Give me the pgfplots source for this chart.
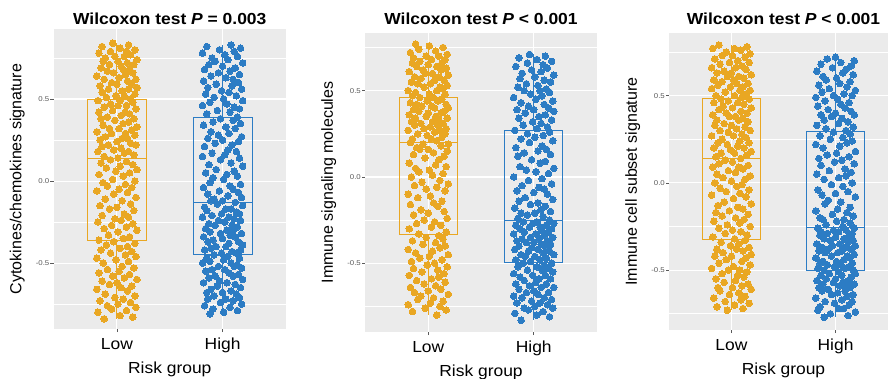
\documentclass[border=0pt]{standalone}
\usepackage{fontspec}
\setmainfont{Liberation Sans}
\usepackage{pgfplots}
\pgfplotsset{compat=1.18}
\definecolor{lowc}{HTML}{E9A723}
\definecolor{highc}{HTML}{2C7CC4}
\definecolor{panelbg}{HTML}{EBEBEB}
\definecolor{tickgray}{HTML}{5A5A5A}
\newcommand{\hs}[1]{\scalebox{1.09}[1]{#1}}
\newcommand{\ys}[1]{\scalebox{1.12}[1]{#1}}
\pgfplotsset{
 panel/.style={
  scale only axis, anchor=south west,
  xmin=0.4, xmax=2.6,
  xtick={1,2}, xticklabels={\hs{Low},\hs{High}},
  ytick={-0.5,0,0.5}, yticklabels={\ys{-0.5},\ys{0.0},\ys{0.5}},
  minor ytick={-0.75,-0.25,0.25,0.75},
  xmajorgrids, ymajorgrids, yminorgrids,
  major grid style={white, line width=1.1pt},
  minor grid style={white, line width=0.55pt},
  axis background/.style={fill=panelbg},
  axis line style={draw=none},
  tick align=outside, tick pos=left,
  major tick length=3pt, minor tick length=0pt,
  tick style={tickgray, line width=0.6pt},
  yticklabel style={font=\fontsize{7}{8}\selectfont, text=tickgray, inner sep=1pt},
  xticklabel style={font=\fontsize{16}{18}\selectfont, inner sep=0pt, anchor=north, yshift=-6pt},
  xlabel={\hs{Risk group}},
  xlabel style={font=\fontsize{16}{18}\selectfont, at={(axis description cs:0.5,0)}, anchor=base, yshift=-44pt},
  ylabel style={font=\fontsize{16}{18}\selectfont, anchor=base},
  title style={font=\fontsize{16}{18}\selectfont\bfseries, anchor=base, at={(0.5,1)}},
 },
 lowpts/.style={only marks, mark=*, mark size=3.3pt, color=lowc, mark options={solid, fill=lowc, draw=lowc, line width=0pt}},
 highpts/.style={only marks, mark=*, mark size=3.3pt, color=highc, mark options={solid, fill=highc, draw=highc, line width=0pt}},
 lowbox/.style={draw=lowc, line width=0.9pt, mark=none, sharp plot, line join=miter},
 highbox/.style={draw=highc, line width=0.9pt, mark=none, sharp plot, line join=miter},
}
\begin{document}
\begin{tikzpicture}
\useasboundingbox (0,0) rectangle (888pt,378pt);
\clip (0,0) rectangle (888pt,378pt);
% ---------------- Panel 1 ----------------
\begin{axis}[panel, at={(53.5pt,49pt)}, width=232.5pt, height=300pt,
  ymin=-0.902, ymax=0.927,
  title={\hs{Wilcoxon test \textit{P} = 0.003}}, title style={yshift=-1pt},
  ylabel={Cytokines/chemokines signature},
  ylabel style={at={(axis description cs:-0.138,0.5)}}]
\addplot[lowpts] coordinates {
(0.88,-0.84) (1.15,-0.83) (1.03,-0.82) (0.82,-0.80) (1.09,-0.79) (0.95,-0.78) (1.18,-0.77) (0.91,-0.76)
(1.01,-0.75) (1.13,-0.74) (0.84,-0.73) (1.06,-0.72) (0.98,-0.71) (1.17,-0.70) (0.89,-0.69) (1.10,-0.67) (0.81,-0.66)
(1.04,-0.65) (1.14,-0.64) (0.93,-0.63) (1.00,-0.62) (0.86,-0.61) (1.19,-0.60) (1.07,-0.59) (0.96,-0.58) (1.12,-0.57) (0.83,-0.56)
(1.02,-0.55) (0.91,-0.54) (1.16,-0.53) (1.05,-0.52) (0.87,-0.50) (1.11,-0.49) (0.99,-0.48) (0.81,-0.47) (1.18,-0.46)
(1.08,-0.45) (0.94,-0.44) (1.14,-0.43) (0.85,-0.42) (1.03,-0.41) (1.10,-0.40) (0.90,-0.39) (1.17,-0.38) (0.97,-0.37) (0.83,-0.36)
(1.06,-0.35) (1.12,-0.34) (0.92,-0.33) (1.01,-0.31) (1.19,-0.30) (0.88,-0.29) (1.09,-0.28) (0.95,-0.27) (1.15,-0.26)
(0.82,-0.25) (1.04,-0.24) (0.98,-0.23) (1.11,-0.22) (0.86,-0.21) (1.07,-0.20) (1.16,-0.18) (0.93,-0.17) (1.00,-0.16)
(0.84,-0.15) (1.13,-0.14) (1.05,-0.12) (0.89,-0.11) (1.18,-0.10) (0.97,-0.08) (1.10,-0.07) (0.81,-0.06)
(1.02,-0.05) (1.14,-0.04) (0.91,-0.03) (1.08,-0.02) (0.87,-0.01) (1.17,0.00) (0.96,0.01) (1.06,0.03) (0.83,0.04)
(1.12,0.05) (0.99,0.06) (1.19,0.07) (0.90,0.08) (1.03,0.09) (1.15,0.10) (0.85,0.11) (1.09,0.12) (0.94,0.13) (1.01,0.14)
(0.88,0.15) (1.16,0.16) (1.07,0.17) (0.82,0.18) (1.11,0.18) (0.97,0.19) (1.04,0.20) (0.86,0.21) (1.18,0.22) (0.92,0.22) (1.13,0.23) (1.00,0.24)
(0.84,0.25) (1.10,0.26) (1.05,0.26) (0.89,0.27) (1.17,0.28) (0.95,0.29) (1.08,0.29) (0.81,0.30) (1.14,0.31) (1.02,0.32) (0.93,0.32) (1.19,0.33) (0.87,0.34)
(1.06,0.35) (1.11,0.36) (0.98,0.37) (0.85,0.38) (1.16,0.38) (0.91,0.39) (1.04,0.40) (1.12,0.41) (0.83,0.42) (1.08,0.42) (0.96,0.43) (1.18,0.44)
(0.88,0.45) (1.01,0.46) (1.09,0.46) (0.94,0.47) (1.15,0.48) (0.82,0.49) (1.03,0.49) (1.13,0.50) (0.90,0.51) (1.07,0.52) (0.99,0.52) (1.17,0.53) (0.86,0.54)
(1.05,0.55) (1.11,0.56) (0.92,0.56) (1.19,0.57) (0.84,0.58) (1.00,0.59) (1.14,0.59) (0.95,0.60) (1.10,0.61) (0.88,0.62) (1.18,0.62) (1.02,0.63) (0.81,0.64)
(1.08,0.65) (0.97,0.66) (1.15,0.66) (0.91,0.67) (1.06,0.68) (1.12,0.68) (0.85,0.69) (1.04,0.70) (0.93,0.71) (1.16,0.71) (1.10,0.72) (0.87,0.73) (1.01,0.73) (1.19,0.74)
(0.89,0.75) (1.07,0.76) (0.98,0.76) (1.13,0.77) (0.83,0.78) (1.09,0.79) (0.94,0.79) (1.17,0.80) (1.03,0.81) (0.86,0.82) (1.11,0.83) (0.96,0.84)
};
\addplot[highpts] coordinates {
(2.08,0.83) (1.85,0.82) (2.17,0.81) (1.97,0.80) (2.11,0.79) (1.81,0.78) (2.02,0.77) (2.14,0.76) (1.90,0.75)
(2.05,0.74) (1.93,0.73) (2.19,0.72) (1.87,0.71) (2.00,0.70) (2.12,0.69) (1.83,0.68) (2.07,0.67) (1.96,0.66) (2.16,0.65)
(1.89,0.64) (2.03,0.63) (2.10,0.62) (1.82,0.61) (2.15,0.60) (1.94,0.59) (2.09,0.58) (1.86,0.57) (2.18,0.56) (1.99,0.55)
(2.06,0.54) (1.84,0.53) (2.13,0.52) (1.92,0.51) (2.01,0.50) (2.19,0.49) (1.88,0.48) (2.04,0.47) (1.81,0.46) (2.11,0.45)
(2.16,0.44) (1.95,0.43) (2.07,0.42) (1.85,0.41) (2.14,0.39) (1.98,0.38) (2.10,0.37) (1.91,0.36) (2.17,0.35)
(1.82,0.34) (2.03,0.33) (2.12,0.32) (1.89,0.30) (2.06,0.29) (1.96,0.28) (2.18,0.27) (1.86,0.26) (2.00,0.25)
(2.15,0.24) (1.93,0.23) (2.09,0.22) (1.83,0.21) (2.05,0.19) (2.13,0.18) (1.90,0.17) (2.02,0.16) (1.81,0.15)
(2.16,0.14) (1.98,0.13) (2.08,0.11) (1.87,0.10) (2.19,0.09) (1.94,0.07) (2.11,0.06) (1.84,0.05)
(2.04,0.04) (2.14,0.03) (1.91,0.02) (2.01,0.01) (1.88,-0.01) (2.17,-0.02) (2.07,-0.03) (1.82,-0.04) (2.10,-0.05)
(1.97,-0.06) (2.15,-0.07) (1.86,-0.08) (2.05,-0.09) (2.18,-0.10) (1.92,-0.11) (2.00,-0.12) (1.89,-0.12) (2.12,-0.13) (1.95,-0.14) (2.19,-0.15)
(1.83,-0.16) (2.08,-0.17) (2.03,-0.17) (1.85,-0.18) (2.13,-0.19) (1.99,-0.20) (2.16,-0.20) (1.90,-0.21) (2.06,-0.22) (1.81,-0.22) (2.11,-0.23) (1.96,-0.24) (2.17,-0.24) (2.02,-0.25)
(1.87,-0.26) (2.09,-0.27) (1.93,-0.27) (2.14,-0.28) (1.84,-0.29) (2.04,-0.30) (2.10,-0.30) (1.88,-0.31) (2.18,-0.32) (1.98,-0.32) (2.07,-0.33) (1.82,-0.34) (2.12,-0.34) (2.00,-0.35)
(1.91,-0.36) (2.15,-0.37) (1.86,-0.37) (2.06,-0.38) (2.19,-0.39) (1.94,-0.40) (2.03,-0.40) (1.89,-0.41) (2.17,-0.42) (1.83,-0.42) (2.09,-0.43) (1.99,-0.44) (2.13,-0.44) (1.92,-0.45)
(2.05,-0.46) (1.85,-0.47) (2.16,-0.47) (2.01,-0.48) (1.88,-0.49) (2.08,-0.50) (1.81,-0.50) (2.14,-0.51) (1.96,-0.52) (2.11,-0.52) (2.18,-0.53) (1.90,-0.54) (2.02,-0.54) (1.84,-0.55)
(2.06,-0.56) (2.15,-0.57) (1.93,-0.58) (2.10,-0.58) (1.87,-0.59) (2.19,-0.60) (1.97,-0.61) (2.04,-0.62) (1.82,-0.62) (2.12,-0.63) (1.95,-0.64) (2.17,-0.65)
(1.89,-0.66) (2.08,-0.67) (2.00,-0.68) (1.85,-0.68) (2.13,-0.69) (1.92,-0.70) (2.16,-0.71) (2.03,-0.72) (1.86,-0.72) (2.10,-0.73) (1.98,-0.74) (2.18,-0.75)
(1.83,-0.76) (2.07,-0.77) (1.91,-0.78) (2.14,-0.79) (2.01,-0.80) (1.88,-0.81)
};
% boxes (Q1, median, Q3, whiskers)
\addplot[lowbox] coordinates {(0.722,-0.365) (1.278,-0.365) (1.278,0.50) (0.722,0.50) (0.722,-0.365)};
\addplot[lowbox] coordinates {(0.722,0.14) (1.278,0.14)};
\addplot[lowbox] coordinates {(1,0.50) (1,0.84)};
\addplot[lowbox] coordinates {(1,-0.365) (1,-0.84)};
\addplot[highbox] coordinates {(1.722,-0.445) (2.278,-0.445) (2.278,0.39) (1.722,0.39) (1.722,-0.445)};
\addplot[highbox] coordinates {(1.722,-0.13) (2.278,-0.13)};
\addplot[highbox] coordinates {(2,0.39) (2,0.83)};
\addplot[highbox] coordinates {(2,-0.445) (2,-0.81)};
\end{axis}
% ---------------- Panel 2 ----------------
\begin{axis}[panel, at={(365pt,46pt)}, width=232pt, height=299pt,
  ymin=-0.898, ymax=0.834,
  title={\hs{Wilcoxon test \textit{P} < 0.001}}, title style={yshift=2pt},
  ylabel={Immune signaling molecules},
  ylabel style={at={(axis description cs:-0.138,0.5)}}]
\addplot[lowpts] coordinates {
(1.08,-0.80) (0.85,-0.78) (1.17,-0.77) (0.97,-0.76)
(1.11,-0.75) (0.81,-0.74) (1.02,-0.73) (1.14,-0.72) (0.90,-0.71) (1.05,-0.70) (0.93,-0.69) (1.19,-0.68) (0.87,-0.67) (1.00,-0.66)
(1.12,-0.65) (0.83,-0.64) (1.07,-0.63) (0.96,-0.62) (1.16,-0.61) (0.89,-0.60) (1.03,-0.59) (1.10,-0.58) (0.82,-0.57) (1.15,-0.56)
(0.94,-0.55) (1.09,-0.54) (0.86,-0.53) (1.18,-0.52) (0.99,-0.51) (1.06,-0.50) (0.84,-0.49) (1.13,-0.48) (0.92,-0.47) (1.01,-0.46)
(1.19,-0.45) (0.88,-0.44) (1.04,-0.43) (0.81,-0.42) (1.11,-0.41) (1.16,-0.40) (0.95,-0.39) (1.07,-0.38) (0.85,-0.37) (1.14,-0.36)
(0.98,-0.35) (1.10,-0.34) (0.91,-0.33) (1.17,-0.32) (0.82,-0.30) (1.03,-0.29) (1.12,-0.28) (0.89,-0.27) (1.06,-0.26)
(0.96,-0.25) (1.18,-0.24) (0.86,-0.22) (1.00,-0.21) (1.15,-0.20) (0.93,-0.19) (1.09,-0.17) (0.83,-0.16)
(1.05,-0.15) (1.13,-0.14) (0.90,-0.12) (1.02,-0.11) (0.81,-0.10) (1.16,-0.08) (0.98,-0.07) (1.08,-0.06)
(0.87,-0.05) (1.19,-0.04) (0.94,-0.03) (1.11,-0.02) (0.84,0.00) (1.04,0.01) (1.14,0.02) (0.91,0.03) (1.01,0.04)
(0.88,0.05) (1.17,0.06) (1.07,0.07) (0.82,0.08) (1.10,0.10) (0.97,0.11) (1.15,0.12) (0.86,0.13) (1.05,0.14)
(1.18,0.15) (0.92,0.16) (1.00,0.16) (0.89,0.17) (1.12,0.18) (0.95,0.19) (1.19,0.19) (0.83,0.20) (1.08,0.21) (1.03,0.22) (0.85,0.22) (1.13,0.23) (0.99,0.24)
(1.16,0.25) (0.90,0.25) (1.06,0.26) (0.81,0.27) (1.11,0.27) (0.96,0.28) (1.17,0.28) (1.02,0.29) (0.87,0.30) (1.09,0.30) (0.93,0.31) (1.14,0.31) (0.84,0.32) (1.04,0.32) (1.10,0.33) (0.88,0.34) (1.18,0.34)
(0.98,0.35) (1.07,0.35) (0.82,0.36) (1.12,0.37) (1.00,0.37) (0.91,0.38) (1.15,0.38) (0.86,0.39) (1.06,0.40) (1.19,0.40) (0.94,0.41) (1.03,0.41) (0.89,0.42) (1.17,0.42) (0.83,0.43) (1.09,0.44) (0.99,0.44)
(1.13,0.45) (0.92,0.46) (1.05,0.46) (0.85,0.47) (1.16,0.48) (1.01,0.48) (0.88,0.49) (1.08,0.50) (0.81,0.50) (1.14,0.51) (0.96,0.52) (1.11,0.52) (1.18,0.53) (0.90,0.54) (1.02,0.54)
(0.84,0.55) (1.06,0.56) (1.15,0.56) (0.93,0.57) (1.10,0.58) (0.87,0.58) (1.19,0.59) (0.97,0.60) (1.04,0.60) (0.82,0.61) (1.12,0.62) (0.95,0.62) (1.17,0.63) (0.89,0.64) (1.08,0.64)
(1.00,0.65) (0.85,0.66) (1.13,0.66) (0.92,0.67) (1.16,0.68) (1.03,0.68) (0.86,0.69) (1.10,0.70) (0.98,0.70) (1.18,0.71) (0.83,0.72) (1.07,0.73) (0.91,0.74) (1.14,0.75) (1.01,0.76) (0.88,0.77)
};
\addplot[highpts] coordinates {
(1.88,-0.83) (2.15,-0.81) (2.03,-0.80) (1.82,-0.79) (2.09,-0.78) (1.95,-0.77) (2.18,-0.76) (1.91,-0.76)
(2.01,-0.75) (2.13,-0.74) (1.84,-0.73) (2.06,-0.73) (1.98,-0.72) (2.17,-0.71) (1.89,-0.70) (2.10,-0.70) (1.81,-0.69) (2.04,-0.68) (2.14,-0.67) (1.93,-0.67) (2.00,-0.66)
(1.86,-0.65) (2.19,-0.64) (2.07,-0.64) (1.96,-0.63) (2.12,-0.62) (1.83,-0.62) (2.02,-0.61) (1.91,-0.60) (2.16,-0.59) (2.05,-0.59) (1.87,-0.58) (2.11,-0.57) (1.99,-0.57) (1.81,-0.56)
(2.18,-0.55) (2.08,-0.54) (1.94,-0.54) (2.14,-0.53) (1.85,-0.52) (2.03,-0.52) (2.10,-0.51) (1.90,-0.50) (2.17,-0.50) (1.97,-0.49) (1.83,-0.48) (2.06,-0.48) (2.12,-0.47) (1.92,-0.46) (2.01,-0.46)
(2.19,-0.45) (1.88,-0.45) (2.09,-0.44) (1.95,-0.43) (2.15,-0.43) (1.82,-0.42) (2.04,-0.42) (1.98,-0.41) (2.11,-0.40) (1.86,-0.40) (2.07,-0.39) (2.16,-0.39) (1.93,-0.38) (2.00,-0.38) (1.84,-0.37) (2.13,-0.37) (2.05,-0.36) (1.89,-0.36)
(2.18,-0.35) (1.97,-0.35) (2.10,-0.34) (1.81,-0.33) (2.02,-0.33) (2.14,-0.32) (1.91,-0.32) (2.08,-0.31) (1.87,-0.30) (2.17,-0.30) (1.96,-0.29) (2.06,-0.29) (1.83,-0.28) (2.12,-0.28) (1.99,-0.27) (2.19,-0.27) (1.90,-0.26) (2.03,-0.26)
(2.15,-0.25) (1.85,-0.24) (2.09,-0.23) (1.94,-0.22) (2.01,-0.21) (1.88,-0.21) (2.16,-0.20) (2.07,-0.19) (1.82,-0.18) (2.11,-0.17) (1.97,-0.16)
(2.04,-0.15) (1.86,-0.14) (2.18,-0.13) (1.92,-0.12) (2.13,-0.10) (2.00,-0.09) (1.84,-0.08) (2.10,-0.07) (2.05,-0.06)
(1.89,-0.05) (2.17,-0.04) (1.95,-0.02) (2.08,-0.01) (1.81,0.00) (2.14,0.02) (2.02,0.03) (1.93,0.04)
(2.19,0.05) (1.87,0.06) (2.06,0.08) (2.11,0.09) (1.98,0.10) (1.85,0.12) (2.16,0.13) (1.91,0.14)
(2.04,0.15) (2.12,0.16) (1.83,0.17) (2.08,0.18) (1.96,0.20) (2.18,0.21) (1.88,0.22) (2.01,0.23) (2.09,0.24)
(1.94,0.25) (2.15,0.26) (1.82,0.27) (2.03,0.28) (2.13,0.29) (1.90,0.30) (2.07,0.31) (1.99,0.32) (2.17,0.33) (1.86,0.34)
(2.05,0.35) (2.11,0.36) (1.92,0.37) (2.19,0.38) (1.84,0.39) (2.00,0.39) (2.14,0.40) (1.95,0.41) (2.10,0.42) (1.88,0.43) (2.18,0.44)
(2.02,0.45) (1.81,0.46) (2.08,0.47) (1.97,0.48) (2.15,0.49) (1.91,0.50) (2.06,0.50) (2.12,0.51) (1.85,0.52) (2.04,0.53) (1.93,0.54)
(2.16,0.55) (2.10,0.56) (1.87,0.57) (2.01,0.58) (2.19,0.59) (1.89,0.60) (2.07,0.61) (1.98,0.62) (2.13,0.63) (1.83,0.64)
(2.09,0.65) (1.94,0.66) (2.17,0.67) (2.03,0.68) (1.86,0.69) (2.11,0.70) (1.96,0.71)
};
\addplot[lowbox] coordinates {(0.724,-0.332) (1.276,-0.332) (1.276,0.462) (0.724,0.462) (0.724,-0.332)};
\addplot[lowbox] coordinates {(0.724,0.20) (1.276,0.20)};
\addplot[lowbox] coordinates {(1,0.462) (1,0.77)};
\addplot[lowbox] coordinates {(1,-0.332) (1,-0.80)};
\addplot[highbox] coordinates {(1.724,-0.497) (2.276,-0.497) (2.276,0.268) (1.724,0.268) (1.724,-0.497)};
\addplot[highbox] coordinates {(1.724,-0.253) (2.276,-0.253)};
\addplot[highbox] coordinates {(2,0.268) (2,0.71)};
\addplot[highbox] coordinates {(2,-0.497) (2,-0.83)};
\end{axis}
% ---------------- Panel 3 ----------------
\begin{axis}[panel, at={(669pt,48pt)}, width=229pt, height=297pt,
  ymin=-0.843, ymax=0.859,
  title={\hs{Wilcoxon test \textit{P} < 0.001}}, title style={yshift=2pt},
  ylabel={Immune cell subset signature},
  ylabel style={at={(axis description cs:-0.14,0.5)}}]
\addplot[lowpts] coordinates {
(0.88,0.79) (1.15,0.78) (1.03,0.77) (0.82,0.77) (1.09,0.76) (0.95,0.75) (1.18,0.74) (0.91,0.73) (1.01,0.73) (1.13,0.72)
(0.84,0.71) (1.06,0.70) (0.98,0.69) (1.17,0.69) (0.89,0.68) (1.10,0.67) (0.81,0.66) (1.04,0.66) (1.14,0.65) (0.93,0.64)
(1.00,0.63) (0.86,0.63) (1.19,0.62) (1.07,0.61) (0.96,0.61) (1.12,0.60) (0.83,0.59) (1.02,0.59) (0.91,0.58) (1.16,0.57)
(1.05,0.57) (0.87,0.56) (1.11,0.55) (0.99,0.55) (0.81,0.54) (1.18,0.53) (1.08,0.53) (0.94,0.52) (1.14,0.51) (0.85,0.50)
(1.03,0.50) (1.10,0.49) (0.90,0.48) (1.17,0.48) (0.97,0.47) (0.83,0.46) (1.06,0.46) (1.12,0.45) (0.92,0.44) (1.01,0.43)
(1.19,0.43) (0.88,0.42) (1.09,0.41) (0.95,0.40) (1.15,0.40) (0.82,0.39) (1.04,0.38) (0.98,0.38) (1.11,0.37) (0.86,0.36)
(1.07,0.36) (1.16,0.35) (0.93,0.34) (1.00,0.33) (0.84,0.33) (1.13,0.32) (1.05,0.31) (0.89,0.30) (1.18,0.30) (0.97,0.29)
(1.10,0.28) (0.81,0.27) (1.02,0.27) (1.14,0.26) (0.91,0.25) (1.08,0.24) (0.87,0.23) (1.17,0.23) (0.96,0.22) (1.06,0.21)
(0.83,0.20) (1.12,0.20) (0.99,0.19) (1.19,0.18) (0.90,0.17) (1.03,0.17) (1.15,0.16) (0.85,0.15) (1.09,0.14) (0.94,0.13)
(1.01,0.12) (0.88,0.11) (1.16,0.10) (1.07,0.09) (0.82,0.09) (1.11,0.08) (0.97,0.07) (1.04,0.06) (0.86,0.05) (1.18,0.04)
(0.92,0.03) (1.13,0.02) (1.00,0.01) (0.84,0.00) (1.10,-0.01) (1.05,-0.02) (0.89,-0.03) (1.17,-0.04) (0.95,-0.05) (1.08,-0.06)
(0.81,-0.07) (1.14,-0.08) (1.02,-0.09) (0.93,-0.11) (1.19,-0.12) (0.87,-0.13) (1.06,-0.14) (1.11,-0.15) (0.98,-0.16) (0.85,-0.17)
(1.16,-0.18) (0.91,-0.19) (1.04,-0.20) (1.12,-0.21) (0.83,-0.22) (1.08,-0.23) (0.96,-0.24) (1.18,-0.25) (0.88,-0.26) (1.01,-0.27)
(1.09,-0.28) (0.94,-0.29) (1.15,-0.30) (0.82,-0.31) (1.03,-0.32) (1.13,-0.33) (0.90,-0.34) (1.07,-0.35) (0.99,-0.36) (1.17,-0.37)
(0.86,-0.38) (1.05,-0.38) (1.11,-0.39) (0.92,-0.40) (1.19,-0.41) (0.84,-0.42) (1.00,-0.42) (1.14,-0.43) (0.95,-0.44) (1.10,-0.45)
(0.88,-0.46) (1.18,-0.47) (1.02,-0.48) (0.81,-0.49) (1.08,-0.50) (0.97,-0.50) (1.15,-0.51) (0.91,-0.52) (1.06,-0.53) (1.12,-0.54)
(0.85,-0.55) (1.04,-0.56) (0.93,-0.57) (1.16,-0.58) (1.10,-0.59) (0.87,-0.60) (1.01,-0.60) (1.19,-0.61) (0.89,-0.62) (1.07,-0.63)
(0.98,-0.64) (1.13,-0.65) (0.83,-0.66) (1.09,-0.67) (0.94,-0.68) (1.17,-0.69) (1.03,-0.70) (0.86,-0.71) (1.11,-0.72) (0.96,-0.73)
};
\addplot[highpts] coordinates {
(1.89,-0.77) (2.12,-0.76) (1.95,-0.75) (2.19,-0.74) (1.83,-0.73) (2.08,-0.72) (2.03,-0.72) (1.85,-0.71) (2.13,-0.70) (1.99,-0.69)
(2.16,-0.68) (1.90,-0.68) (2.06,-0.67) (1.81,-0.66)
(2.11,-0.65) (1.96,-0.64) (2.17,-0.64) (2.02,-0.63) (1.87,-0.62) (2.09,-0.62)
(1.93,-0.61) (2.14,-0.60) (1.84,-0.60) (2.04,-0.59) (2.10,-0.59) (1.88,-0.58) (2.18,-0.58) (1.98,-0.57) (2.07,-0.57) (1.82,-0.56) (2.12,-0.56)
(2.00,-0.55) (1.91,-0.55) (2.15,-0.54) (1.86,-0.53) (2.06,-0.53) (2.19,-0.52) (1.94,-0.52) (2.03,-0.51) (1.89,-0.50)
(2.17,-0.50) (1.83,-0.49) (2.09,-0.49) (1.99,-0.48) (2.13,-0.48) (1.92,-0.47) (2.05,-0.47) (1.85,-0.46) (2.16,-0.46)
(2.01,-0.45) (1.88,-0.45) (2.08,-0.44) (1.81,-0.43) (2.14,-0.43) (1.96,-0.42) (2.11,-0.42) (2.18,-0.41) (1.90,-0.40) (2.02,-0.40) (1.84,-0.39)
(2.06,-0.39) (2.15,-0.38) (1.93,-0.38) (2.10,-0.37) (1.87,-0.37) (2.19,-0.36) (1.97,-0.36)
(2.04,-0.35) (1.82,-0.35) (2.12,-0.34) (1.95,-0.33) (2.17,-0.33) (1.89,-0.32) (2.08,-0.32) (2.00,-0.31) (1.85,-0.30) (2.13,-0.30) (1.92,-0.29) (2.16,-0.29) (2.03,-0.28)
(1.86,-0.28) (2.10,-0.27) (1.98,-0.27) (2.18,-0.26) (1.83,-0.26)
(2.07,-0.25) (1.91,-0.24) (2.14,-0.23) (2.01,-0.22) (1.88,-0.21) (2.08,-0.21) (1.85,-0.20) (2.17,-0.19) (1.97,-0.18) (2.11,-0.17) (1.81,-0.16)
(2.02,-0.15) (2.14,-0.14) (1.90,-0.12) (2.05,-0.11) (1.93,-0.10) (2.19,-0.08) (1.87,-0.07) (2.00,-0.06)
(2.12,-0.05) (1.83,-0.04) (2.07,-0.02) (1.96,-0.01) (2.16,0.00) (1.89,0.02) (2.03,0.03) (2.10,0.04)
(1.82,0.05) (2.15,0.06) (1.94,0.07) (2.09,0.08) (1.86,0.10) (2.18,0.11) (1.99,0.12) (2.06,0.13) (1.84,0.14)
(2.13,0.15) (1.92,0.16) (2.01,0.17) (2.19,0.18) (1.88,0.20) (2.04,0.21) (1.81,0.22) (2.11,0.23) (2.16,0.24)
(1.95,0.25) (2.07,0.26) (1.85,0.27) (2.14,0.28) (1.98,0.29) (2.10,0.30) (1.91,0.31) (2.17,0.32) (1.82,0.33) (2.03,0.34)
(2.12,0.35) (1.89,0.36) (2.06,0.37) (1.96,0.38) (2.18,0.39) (1.86,0.39) (2.00,0.40) (2.15,0.41) (1.93,0.42) (2.09,0.43) (1.83,0.44)
(2.05,0.45) (2.13,0.46) (1.90,0.47) (2.02,0.48) (1.81,0.49) (2.16,0.50) (1.98,0.50) (2.08,0.51) (1.87,0.52) (2.19,0.53) (1.94,0.54)
(2.11,0.55) (1.84,0.56) (2.04,0.57) (2.14,0.58) (1.91,0.59) (2.01,0.60) (1.88,0.61) (2.17,0.62) (2.07,0.63) (1.82,0.64)
(2.10,0.65) (1.97,0.66) (2.15,0.67) (1.86,0.68) (2.05,0.69) (2.18,0.70) (1.92,0.71) (2.00,0.72)
};
\addplot[lowbox] coordinates {(0.72,-0.323) (1.28,-0.323) (1.28,0.482) (0.72,0.482) (0.72,-0.323)};
\addplot[lowbox] coordinates {(0.72,0.142) (1.28,0.142)};
\addplot[lowbox] coordinates {(1,0.482) (1,0.79)};
\addplot[lowbox] coordinates {(1,-0.323) (1,-0.73)};
\addplot[highbox] coordinates {(1.72,-0.504) (2.28,-0.504) (2.28,0.293) (1.72,0.293) (1.72,-0.504)};
\addplot[highbox] coordinates {(1.72,-0.258) (2.28,-0.258)};
\addplot[highbox] coordinates {(2,0.293) (2,0.72)};
\addplot[highbox] coordinates {(2,-0.504) (2,-0.77)};
\end{axis}
\end{tikzpicture}
\end{document}
